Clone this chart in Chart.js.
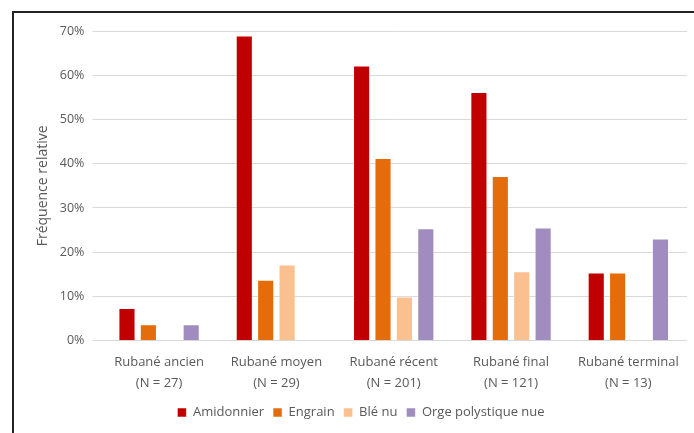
<!DOCTYPE html>
<html lang="fr">
<head>
<meta charset="UTF-8">
<title>Fréquence relative</title>
<script src="https://cdn.jsdelivr.net/npm/chart.js@4"></script>
<style>
  body { margin: 0; background: #fff; }
  .frame {
    position: absolute; left: 12px; top: 11px; width: 700px; height: 440px;
    border-top: 2px solid #222; border-left: 2px solid #222;
  }
  .wrap { position: absolute; left: 0; top: 0; width: 694px; height: 433px; }
</style>
</head>
<body>
<div class="frame"></div>
<div class="wrap"><canvas id="c" width="694" height="433"></canvas></div>
<script>
// périodes (deux lignes)
const categories = [
  ["Rubané ancien", "(N = 27)"],
  ["Rubané moyen", "(N = 29)"],
  ["Rubané récent", "(N = 201)"],
  ["Rubané final", "(N = 121)"],
  ["Rubané terminal", "(N = 13)"]
];
const amidonnier = [7.4, 69.0, 62.2, 56.2, 15.4];
const engrain    = [3.7, 13.8, 41.3, 37.2, 15.4];
const bleNu      = [0, 17.2, 10.0, 15.7, 0];
const orge       = [3.7, 0, 25.4, 25.6, 23.1];
const yTicks = [0, 10, 20, 30, 40, 50, 60, 70];

const font = "'Open Sans', 'Liberation Sans', sans-serif";

function ds(label, data, color) {
  return {
    label: label,
    data: data,
    backgroundColor: color,
    borderColor: 'rgba(255,255,255,0.5)',
    borderWidth: 1,
    categoryPercentage: 0.73,
    barPercentage: 0.8
  };
}

new Chart(document.getElementById('c'), {
  type: 'bar',
  data: {
    labels: categories,
    datasets: [
      ds('Amidonnier', amidonnier, '#c00000'),
      ds('Engrain', engrain, '#e46c0a'),
      ds('Blé nu', bleNu, '#fac090'),
      ds('Orge polystique nue', orge, '#a08cbe')
    ]
  },
  options: {
    responsive: false,
    animation: false,
    layout: { padding: { top: 31, right: 7, left: 35, bottom: 4 } },
    plugins: {
      tooltip: { enabled: false },
      legend: {
        position: 'bottom',
        labels: {
          color: '#595959',
          font: { family: font, size: 13 },
          boxWidth: 9, boxHeight: 9, padding: 9
        }
      }
    },
    scales: {
      x: {
        grid: { display: false },
        border: { display: false },
        ticks: { color: '#595959', font: { family: font, size: 13, lineHeight: 1.55 }, padding: 4 }
      },
      y: {
        min: 0, max: 70,
        afterBuildTicks: (axis) => { axis.ticks = yTicks.map(v => ({ value: v })); },
        grid: { color: '#d9d9d9', lineWidth: 1 },
        border: { display: false },
        ticks: {
          color: '#595959', font: { family: font, size: 12.5 }, padding: 8,
          callback: (v) => v + '%'
        },
        title: {
          display: true, text: 'Fréquence relative', color: '#595959',
          font: { family: font, size: 14 }, padding: { top: 0, bottom: 0 }
        }
      }
    }
  }
});
</script>
</body>
</html>
